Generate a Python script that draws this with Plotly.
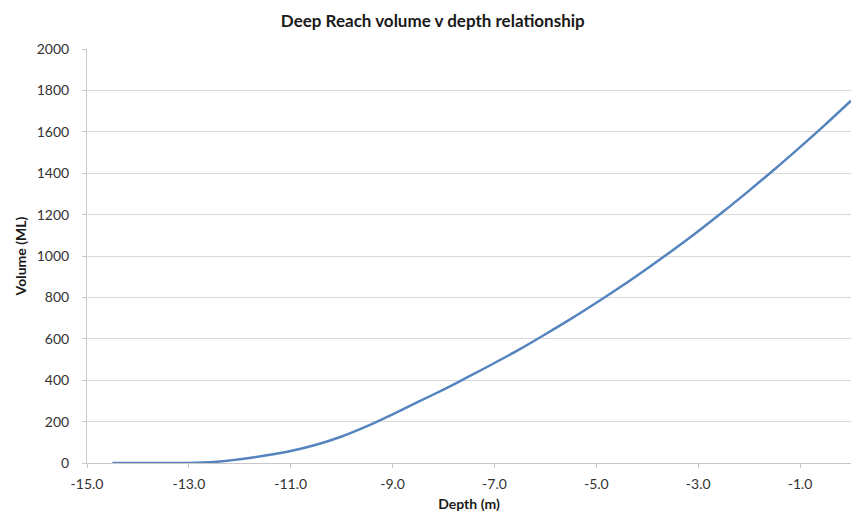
import plotly.graph_objects as go

depth = [-14.5, -14.0, -13.5, -13.0, -12.5, -12.0, -11.5, -11.0, -10.5, -10.0,
         -9.5, -9.0, -8.5, -8.0, -7.5, -7.0, -6.5, -6.0, -5.5, -5.0,
         -4.5, -4.0, -3.5, -3.0, -2.5, -2.0, -1.5, -1.0, -0.5, 0.0]
volume = [0, 0, 0, 0, 5, 18, 36, 58, 88, 128,
          178, 235, 295, 355, 418, 483, 550, 622, 696, 774,
          855, 940, 1028, 1120, 1216, 1316, 1419, 1526, 1636, 1750]
x_ticks = [-15, -13, -11, -9, -7, -5, -3, -1]
x_tick_labels = ["-15.0", "-13.0", "-11.0", "-9.0", "-7.0", "-5.0", "-3.0", "-1.0"]
y_ticks = [0, 200, 400, 600, 800, 1000, 1200, 1400, 1600, 1800, 2000]

FONT = "Lato"

fig = go.Figure()
fig.add_trace(go.Scatter(
    x=depth, y=volume, mode="lines",
    line=dict(color="#5584bf", width=2.5, shape="spline", smoothing=0.8),
    showlegend=False, hoverinfo="skip",
))

fig.update_layout(
    width=853, height=516,
    margin=dict(l=79, r=10, t=41, b=61),
    paper_bgcolor="white", plot_bgcolor="white",
    title=dict(text="<b>Deep Reach volume v depth relationship</b>",
               x=0.498, xanchor="center", xref="container",
               y=1 - 13 / 516, yanchor="middle", yref="container",
               font=dict(family=FONT, size=17, color="#1a1a1a")),
    font=dict(family=FONT, size=14, color="#333333"),
)
fig.update_xaxes(
    range=[-15, 0], tickvals=x_ticks, ticktext=x_tick_labels,
    showgrid=False, zeroline=False,
    showline=True, linecolor="#c8c8c8", linewidth=1,
    ticks="outside", ticklen=4, tickcolor="#c8c8c8",
    ticklabelstandoff=4,
    tickfont=dict(size=14, color="#333333"),
    title=dict(text="<b>Depth (m)</b>", standoff=8,
               font=dict(size=14, color="#1a1a1a")),
)
fig.update_yaxes(
    range=[0, 2000], tickvals=y_ticks,
    showgrid=True, gridcolor="#d9d9d9", gridwidth=1, zeroline=False,
    showline=True, linecolor="#c8c8c8", linewidth=1,
    ticks="outside", ticklen=4, tickcolor="#c8c8c8",
    ticklabelstandoff=10,
    tickfont=dict(size=14, color="#333333"),
    title=dict(text="<b>Volume (ML)</b>", standoff=6,
               font=dict(size=14, color="#1a1a1a")),
)

fig.write_html("out.html")
